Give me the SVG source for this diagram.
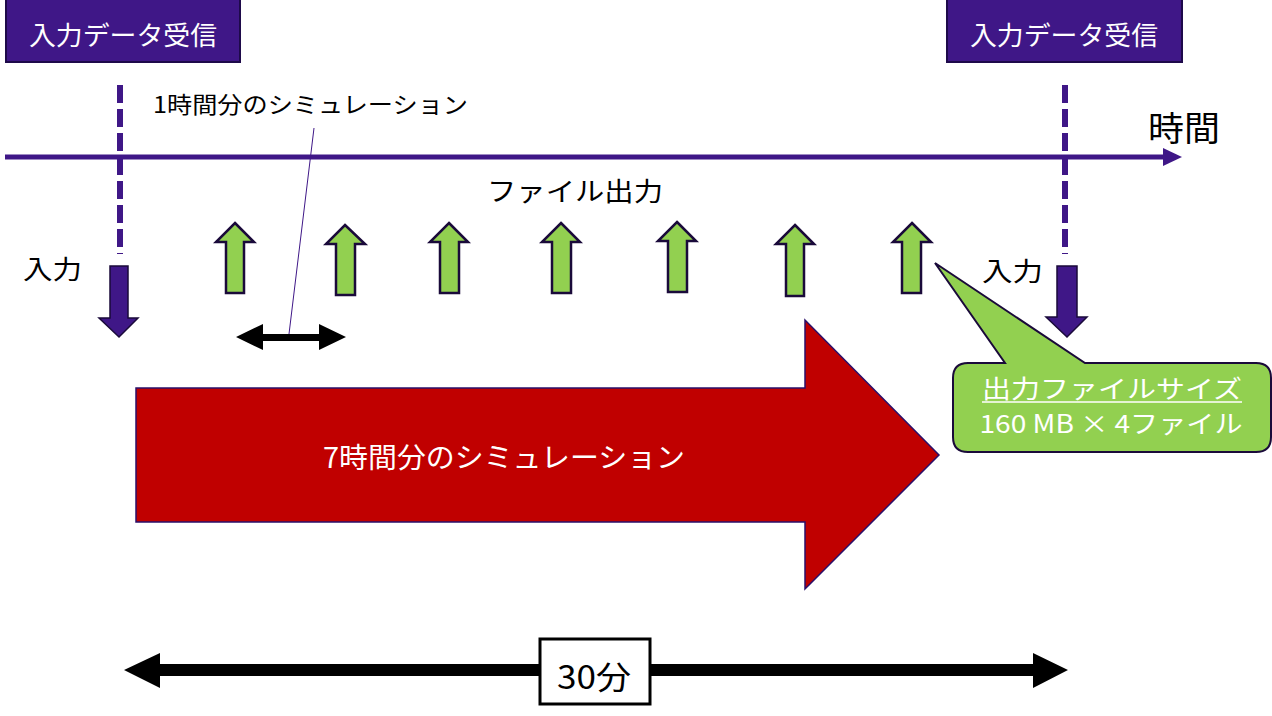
<svg xmlns="http://www.w3.org/2000/svg" width="1272" height="716" viewBox="0 0 1272 716">
<style>
.jp{font-family:"Noto Sans CJK JP","Noto Sans",sans-serif;}
.hdr{fill:#3F1787;stroke:#1E0A4A;stroke-width:2;}
.hdrt{fill:#fff;font-size:26px;}
.dash{stroke:#3F1787;stroke-width:6;stroke-dasharray:18 6;fill:none;}
.up{fill:#92D050;stroke:#1A0A3A;stroke-width:2.5;}
.down{fill:#3F1787;stroke:#1A0A3A;stroke-width:1.5;}
.blk{fill:#000;font-size:26px;}
</style>
<rect width="1272" height="716" fill="#fff"/>
<g id="header-left">
<rect class="hdr" x="6" y="-2" width="234" height="64"/>
<text class="jp hdrt" x="123" y="45" text-anchor="middle" textLength="188" lengthAdjust="spacingAndGlyphs">入力データ受信</text>
</g>
<g id="header-right">
<rect class="hdr" x="947" y="-2" width="235" height="64"/>
<text class="jp hdrt" x="1064" y="45" text-anchor="middle" textLength="188" lengthAdjust="spacingAndGlyphs">入力データ受信</text>
</g>
<g id="connectors">
<line class="dash" x1="120" y1="85" x2="120" y2="254"/>
<line class="dash" x1="1065" y1="85" x2="1065" y2="254"/>
<line x1="5" y1="157" x2="1165" y2="157" stroke="#3F1787" stroke-width="5"/>
<polygon points="1163,148 1182,157 1163,166" fill="#3F1787"/>
<line x1="314" y1="128" x2="289" y2="334" stroke="#3F1787" stroke-width="1"/>
<polygon points="236,337 263,324 263,334 319,334 319,324 346,337 319,350 319,341 263,341 263,350" fill="#000"/>
<polygon points="124,670 160,653 160,664 1033,664 1033,653 1068,670 1033,688 1033,676 160,676 160,688" fill="#000"/>
</g>
<g id="time-label"><text class="jp" x="1184" y="141" font-size="34" text-anchor="middle" textLength="72" lengthAdjust="spacingAndGlyphs">時間</text></g>
<g id="one-hour-label"><text class="jp" x="153" y="113" font-size="23" textLength="315" lengthAdjust="spacingAndGlyphs">1時間分のシミュレーション</text></g>
<g id="file-output-label"><text class="jp blk" x="487" y="201" textLength="176" lengthAdjust="spacingAndGlyphs">ファイル出力</text></g>
<g id="input-left">
<text class="jp blk" x="23" y="279" font-size="27" textLength="59" lengthAdjust="spacingAndGlyphs">入力</text>
<polygon class="down" points="110,266 128,266 128,318 138,318 119,337 99,318 110,318"/>
</g>
<g id="input-right">
<text class="jp blk" x="982" y="281" font-size="27" textLength="61" lengthAdjust="spacingAndGlyphs">入力</text>
<polygon class="down" points="1057,266 1077,266 1077,317 1087,317 1067,337 1046,317 1057,317"/>
</g>
<g id="outputs">
<polygon class="up" points="235,223 254,242 244,242 244,293 226,293 226,242 216,242"/>
<polygon class="up" points="345,225 365,244 355,244 355,295 336,295 336,244 326,244"/>
<polygon class="up" points="449,223 468,242 459,242 459,293 440,293 440,242 430,242"/>
<polygon class="up" points="561,223 580,242 571,242 571,293 552,293 552,242 542,242"/>
<polygon class="up" points="677,222 696,241 687,241 687,292 668,292 668,241 658,241"/>
<polygon class="up" points="795,225 814,244 804,244 804,296 786,296 786,244 776,244"/>
<polygon class="up" points="912,223 931,242 921,242 921,293 902,293 902,242 893,242"/>
</g>
<g id="big-arrow">
<polygon points="136,388 805,388 805,320 939,455 805,589 805,522 136,522" fill="#C00000" stroke="#2A0F6A" stroke-width="1.5"/>
<text class="jp" x="504" y="468" font-size="28" fill="#fff" text-anchor="middle" textLength="362" lengthAdjust="spacingAndGlyphs">7時間分のシミュレーション</text>
</g>
<g id="callout">
<path d="M 968,363 L 1005,363 L 935,263 L 1085,363 L 1256,363 Q 1271,363 1271,378 L 1271,437 Q 1271,452 1256,452 L 968,452 Q 953,452 953,437 L 953,378 Q 953,363 968,363 Z" fill="#92D050" stroke="#1A0A3A" stroke-width="2"/>
<text class="jp" x="1112" y="398" font-size="25" fill="#fff" text-anchor="middle" textLength="260" lengthAdjust="spacingAndGlyphs">出力ファイルサイズ</text>
<line x1="982" y1="402" x2="1242" y2="402" stroke="#fff" stroke-width="1.5"/>
<text class="jp" x="1111" y="433" font-size="25" fill="#fff" text-anchor="middle" textLength="263" lengthAdjust="spacingAndGlyphs">160 MB × 4ファイル</text>
</g>
<g id="duration">
<rect x="540" y="639" width="110" height="65" fill="#fff" stroke="#000" stroke-width="3"/>
<text class="jp" x="594" y="689" font-size="32" text-anchor="middle" textLength="74" lengthAdjust="spacingAndGlyphs">30分</text>
</g>
</svg>
